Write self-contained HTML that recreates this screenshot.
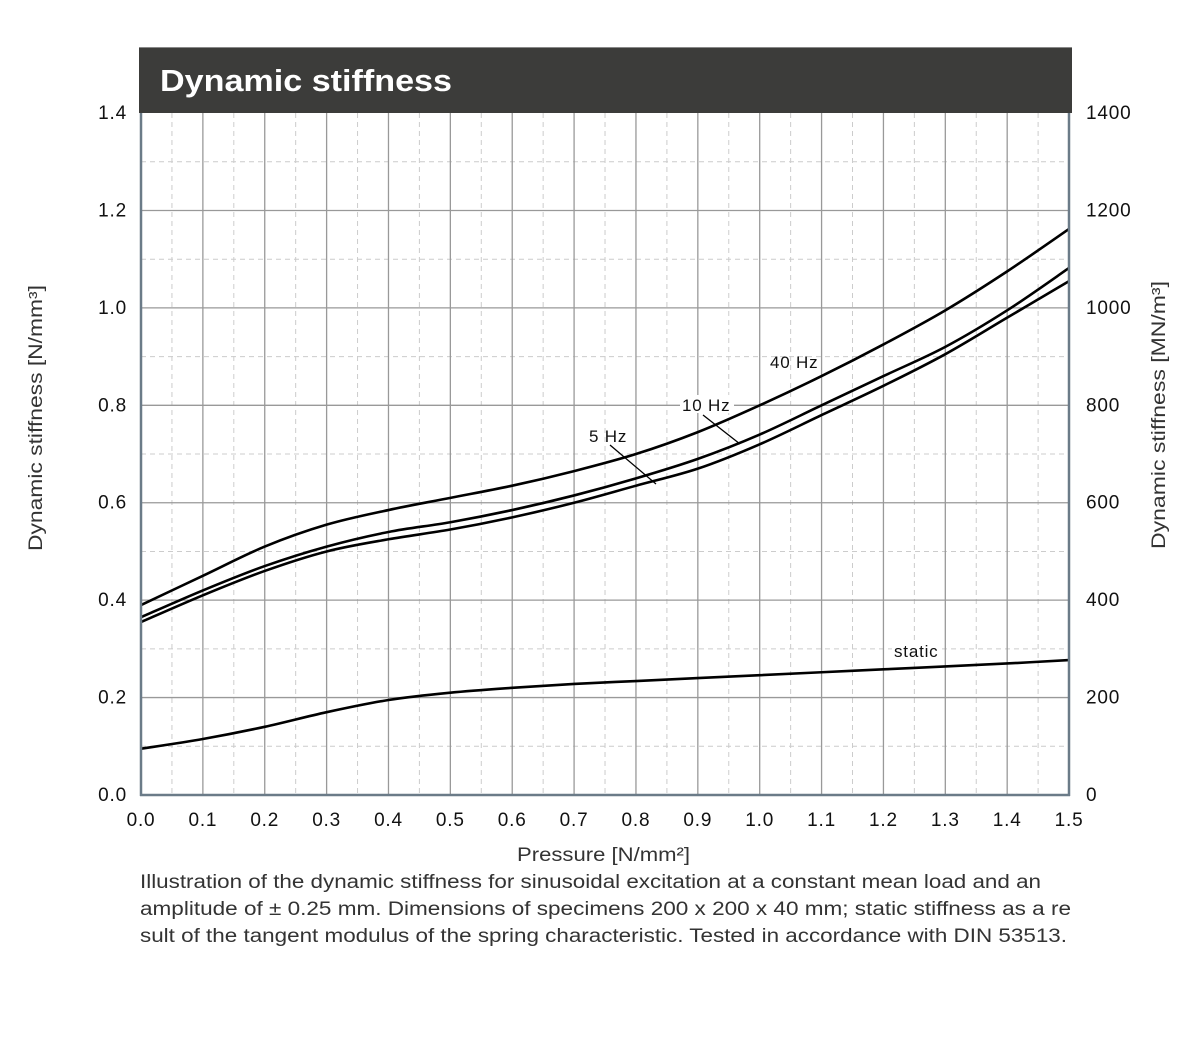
<!DOCTYPE html>
<html><head><meta charset="utf-8"><style>
body{margin:0;background:#fff;width:1201px;height:1051px;overflow:hidden}
svg{display:block}
text{font-family:"Liberation Sans",sans-serif}
</style></head><body>
<svg id="s" width="1201" height="1051" xmlns="http://www.w3.org/2000/svg">
<rect x="139" y="47" width="933" height="66" fill="#3c3c3a"/>
<line x1="139" y1="47.5" x2="1072" y2="47.5" stroke="#888" stroke-width="1"/>
<text x="160" y="91" font-size="31" font-weight="bold" fill="#fff" textLength="292" lengthAdjust="spacingAndGlyphs">Dynamic stiffness</text>
<g id="grid"></g>
<g id="curves" fill="none" stroke="#000" stroke-width="2.6"></g>
<line x1="141" y1="113" x2="141" y2="796" stroke="#6b7b88" stroke-width="2.5"/>
<line x1="1069" y1="113" x2="1069" y2="796" stroke="#6b7b88" stroke-width="2.5"/>
<line x1="140" y1="795" x2="1070" y2="795" stroke="#6b7b88" stroke-width="2.5"/>
<g font-size="17" fill="#111" letter-spacing="0.8">
<text x="770" y="368">40 Hz</text>
<rect x="680" y="395" width="54" height="18" fill="#fff"/>
<text x="682" y="411">10 Hz</text>
<text x="589" y="442">5 Hz</text>
<rect x="892" y="642" width="48" height="17" fill="#fff"/>
<text x="894" y="657">static</text>
</g>
<line x1="703" y1="415" x2="740" y2="444" stroke="#000" stroke-width="1.3"/>
<line x1="610" y1="445" x2="656" y2="484" stroke="#000" stroke-width="1.3"/>
<g id="labels" font-size="19" fill="#111" letter-spacing="0.8"></g>
<text x="517" y="861" font-size="19" fill="#333" textLength="173" lengthAdjust="spacingAndGlyphs">Pressure [N/mm²]</text>
<text transform="translate(42,418) rotate(-90)" font-size="19" fill="#333" text-anchor="middle" textLength="266" lengthAdjust="spacingAndGlyphs">Dynamic stiffness  [N/mm³]</text>
<text transform="translate(1165,415) rotate(-90)" font-size="19" fill="#333" text-anchor="middle" textLength="268" lengthAdjust="spacingAndGlyphs">Dynamic stiffness  [MN/m³]</text>
<g font-size="19" fill="#333">
<text x="140" y="888" textLength="901" lengthAdjust="spacingAndGlyphs">Illustration of the dynamic stiffness for sinusoidal excitation at a constant mean load and an</text>
<text x="140" y="915" textLength="931" lengthAdjust="spacingAndGlyphs">amplitude of ± 0.25 mm.  Dimensions of specimens 200 x 200 x 40 mm; static stiffness as a re</text>
<text x="140" y="942" textLength="927" lengthAdjust="spacingAndGlyphs">sult of the tangent modulus of the spring characteristic. Tested in accordance with DIN 53513.</text>
</g>
</svg>
<script>
var NS="http://www.w3.org/2000/svg";
function X(p){return 141+p*618.7}
function Y(v){return 795-v*487.1}
function el(t,a,par,txt){var e=document.createElementNS(NS,t);for(var k in a)e.setAttribute(k,a[k]);if(txt!=null)e.textContent=txt;document.getElementById(par).appendChild(e);return e}
for(var i=1;i<30;i++){var x=X(i*0.05);if(i%2)el("line",{x1:x,y1:113,x2:x,y2:795,stroke:"#ccc","stroke-dasharray":"5,4","stroke-width":1},"grid");}
for(var i=1;i<14;i++){var y=Y(i*0.1);if(i%2)el("line",{x1:141,y1:y,x2:1069,y2:y,stroke:"#ccc","stroke-dasharray":"5,4","stroke-width":1},"grid");}
for(var i=1;i<15;i++){var x=X(i*0.1);el("line",{x1:x,y1:113,x2:x,y2:795,stroke:"#999","stroke-width":1.3},"grid");}
for(var i=1;i<7;i++){var y=Y(i*0.2);el("line",{x1:141,y1:y,x2:1069,y2:y,stroke:"#999","stroke-width":1.3},"grid");}
for(var i=0;i<=7;i++){var y=Y(i*0.2)+6;el("text",{x:127,y:y,"text-anchor":"end"},"labels",(i*0.2).toFixed(1));el("text",{x:1086,y:y},"labels",String(i*200));}
for(var i=0;i<=15;i++){el("text",{x:X(i*0.1),y:826,"text-anchor":"middle"},"labels",(i*0.1).toFixed(1));}
var D={
a:[.39,.45,.51,.555,.585,.61,.635,.665,.70,.745,.80,.86,.925,.995,1.075,1.162],
b:[.365,.42,.47,.51,.54,.56,.585,.615,.65,.69,.74,.80,.86,.92,.995,1.082],
c:[.355,.41,.46,.50,.525,.545,.57,.60,.635,.67,.72,.78,.84,.905,.98,1.055],
d:[.095,.115,.14,.17,.195,.21,.22,.228,.234,.24,.246,.252,.258,.264,.27,.277]};
for(var k in D){var v=D[k],P=v.map(function(y,i){return[X(i*0.1),Y(y)]});
var d="M"+P[0][0]+","+P[0][1];
for(var i=0;i<P.length-1;i++){var p0=P[Math.max(i-1,0)],p1=P[i],p2=P[i+1],p3=P[Math.min(i+2,P.length-1)];
d+=" C"+(p1[0]+(p2[0]-p0[0])/6)+","+(p1[1]+(p2[1]-p0[1])/6)+" "+(p2[0]-(p3[0]-p1[0])/6)+","+(p2[1]-(p3[1]-p1[1])/6)+" "+p2[0]+","+p2[1];}
el("path",{d:d},"curves");}
</script>
</body></html>
